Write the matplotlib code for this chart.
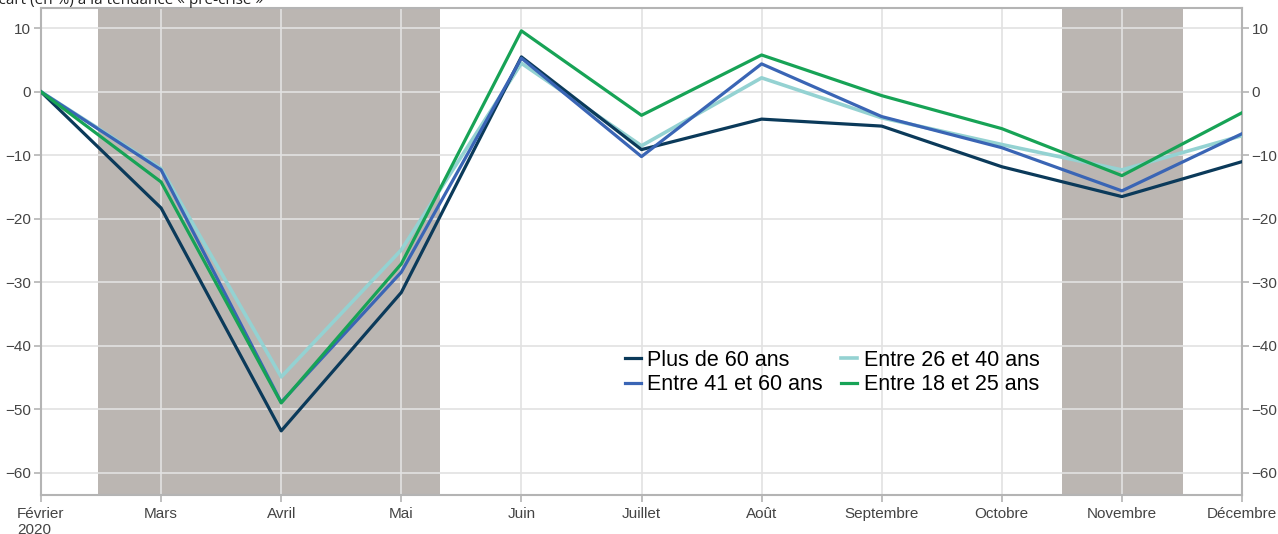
import matplotlib
matplotlib.use("Agg")
import matplotlib.pyplot as plt
from matplotlib.ticker import FixedLocator

plt.rcParams["font.family"] = ["Liberation Sans", "DejaVu Sans"]

# ==== données ====
MOIS = ["Février\n2020", "Mars", "Avril", "Mai", "Juin", "Juillet", "Août",
        "Septembre", "Octobre", "Novembre", "Décembre"]
PLUS_60 = [0, -18.3, -53.4, -31.6, 5.5, -9.1, -4.3, -5.4, -11.8, -16.5, -11.0]
ENTRE_41_60 = [0, -12.3, -48.9, -28.4, 5.3, -10.2, 4.4, -3.9, -8.8, -15.6, -6.6]
ENTRE_26_40 = [0, -12.1, -44.9, -24.9, 4.5, -8.5, 2.2, -4.1, -8.3, -12.3, -6.9]
ENTRE_18_25 = [0, -14.2, -49.0, -27.1, 9.6, -3.7, 5.8, -0.6, -5.8, -13.2, -3.3]

# périodes de confinement (en position de mois)
CONFINEMENTS = [(0.475, 3.32), (8.5, 9.51)]

C_NAVY = "#0b3a5a"
C_BLUE = "#3a65b5"
C_TEAL = "#94d2d2"
C_GREEN = "#17a356"
C_SHADE = "#bbb6b2"
C_AXIS = "#b4b4b4"

fig = plt.figure(figsize=(12.78, 5.34), dpi=100)
ax = fig.add_axes([41 / 1278, 39 / 534, 1201 / 1278, 487 / 534])

x = list(range(len(MOIS)))
for a, b in CONFINEMENTS:
    ax.axvspan(a, b, color=C_SHADE, lw=0, zorder=0)

ax.grid(True, color="#e2e2e2", lw=1.2, zorder=1)
ax.set_axisbelow(True)

lw = 2.3
l_teal, = ax.plot(x, ENTRE_26_40, color=C_TEAL, lw=lw + 0.3, label="Entre 26 et 40 ans", zorder=3)
l_navy, = ax.plot(x, PLUS_60, color=C_NAVY, lw=lw, label="Plus de 60 ans", zorder=3)
l_blue, = ax.plot(x, ENTRE_41_60, color=C_BLUE, lw=lw, label="Entre 41 et 60 ans", zorder=3)
l_green, = ax.plot(x, ENTRE_18_25, color=C_GREEN, lw=lw, label="Entre 18 et 25 ans", zorder=3)

ax.set_xlim(0, 10)
ax.set_ylim(-63.5, 13.2)
ax.set_xticks(x)
ax.set_xticklabels(MOIS, fontsize=11, color="#444444", multialignment="left")
yt = [10, 0, -10, -20, -30, -40, -50, -60]
ax.set_yticks(yt)
ax.set_yticklabels([str(v).replace("-", "\u2212") for v in yt], fontsize=11, color="#444444")
ax.tick_params(axis="both", color=C_AXIS, length=5, width=1.2)
ax.tick_params(axis="y", pad=2)

for s in ax.spines.values():
    s.set_color(C_AXIS)
    s.set_linewidth(1.5)

ax2 = ax.twinx()
ax2.set_ylim(ax.get_ylim())
ax2.yaxis.set_major_locator(FixedLocator(yt))
ax2.set_yticklabels([str(v).replace("-", "\u2212") for v in yt], fontsize=11, color="#444444")
ax2.tick_params(axis="y", color=C_AXIS, length=5, width=1.2, pad=2)
for s in ax2.spines.values():
    s.set_visible(False)

ax.legend([l_navy, l_blue, l_teal, l_green],
          ["Plus de 60 ans", "Entre 41 et 60 ans", "Entre 26 et 40 ans", "Entre 18 et 25 ans"],
          ncol=2, loc="upper left", bbox_to_anchor=(0.486, 0.298), frameon=False,
          fontsize=15.5, handlelength=0.75, handletextpad=0.3, columnspacing=0.85,
          labelspacing=0.15, borderpad=0, borderaxespad=0)

fig.text(-0.008, 1 - 4 / 534, "Écart (en %) à la tendance « pré-crise »", fontsize=11,
         color="#222222", ha="left", va="baseline", family=["Open Sans", "DejaVu Sans"])

fig.savefig("out.png", dpi=100)
